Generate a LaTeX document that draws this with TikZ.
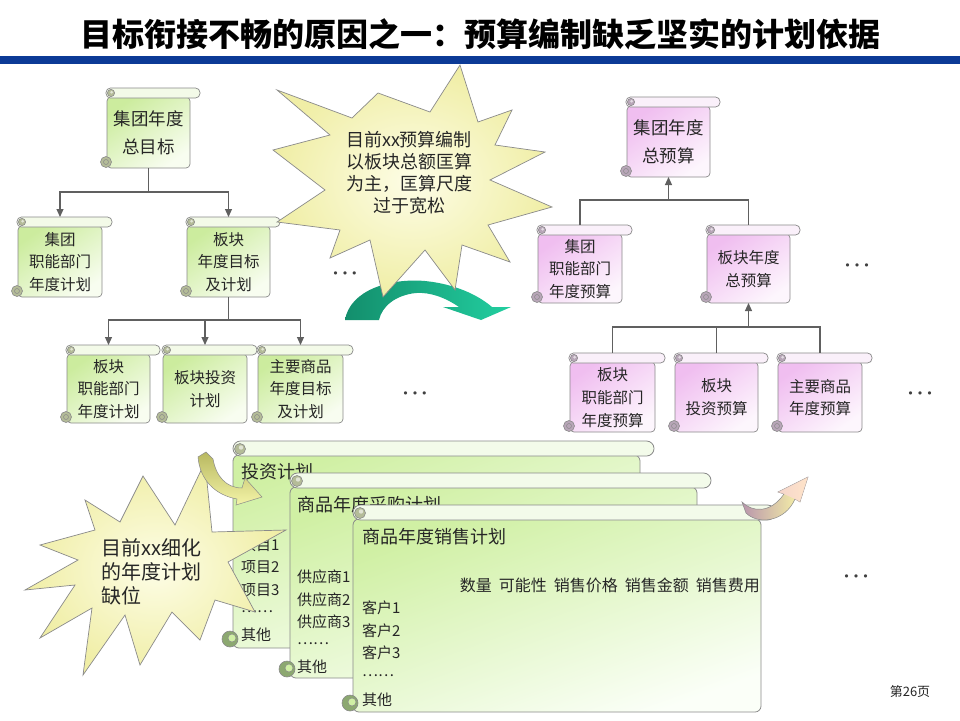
\documentclass[tikz,border=0pt]{standalone}
\usepackage{fontspec}
\setmainfont{Noto Sans CJK SC}
\newfontfamily\dejavu{DejaVu Sans}
\usetikzlibrary{arrows.meta,calc}
\definecolor{barBlue}{HTML}{0C3A96}
\definecolor{lineC}{HTML}{606060}
\definecolor{edgeC}{HTML}{8A8A8A}
\definecolor{gLo}{HTML}{CCEC9E}
\definecolor{gHi}{HTML}{F8FDF0}
\definecolor{gBar}{HTML}{F3FAE8}
\definecolor{gCurl}{HTML}{B4BC98}
\definecolor{pLo}{HTML}{F0BEF0}
\definecolor{pHi}{HTML}{FDF6FD}
\definecolor{pBar}{HTML}{FAF0FA}
\definecolor{pCurl}{HTML}{B8A6B8}
\definecolor{dLo}{HTML}{D0F0A4}
\definecolor{dMid}{HTML}{F1FCE6}
\definecolor{dHi}{HTML}{FBFFF8}
\definecolor{dBar}{HTML}{F3FBEA}
\definecolor{dCurl}{HTML}{8CA870}
\definecolor{starIn}{HTML}{FDFDE6}
\definecolor{starOut}{HTML}{F0EEA6}
\definecolor{arrDark}{HTML}{138E6C}
\definecolor{arrLight}{HTML}{22CFA0}
\definecolor{oliveA}{HTML}{B8B860}
\definecolor{oliveB}{HTML}{F4F4A8}
\tikzset{
  conn/.style={draw=lineC, line width=1.1pt},
  arr/.style={conn, -{Triangle[length=8pt,width=7pt]}},
  gbody/.style={left color=gLo, right color=gHi, shading angle=35, draw=edgeC, line width=0.7pt},
  gbar/.style={fill=gBar, draw=edgeC, line width=0.7pt},
  gcurl/.style={fill=gCurl, draw=edgeC, line width=0.6pt},
  pbody/.style={left color=pLo, right color=pHi, shading angle=35, draw=edgeC, line width=0.7pt},
  pbar/.style={fill=pBar, draw=edgeC, line width=0.7pt},
  pcurl/.style={fill=pCurl, draw=edgeC, line width=0.6pt},
  dbody/.style={left color=dLo, middle color=dMid, right color=dHi, shading angle=20, draw=edgeC, line width=0.8pt},
  dbar/.style={fill=dBar, draw=edgeC, line width=0.8pt},
  dcurl/.style={fill=gCurl, draw=edgeC, line width=0.6pt},
  dcurlb/.style={fill=dCurl, draw=edgeC, line width=0.6pt},
  bigtxt/.style={align=center, text=black!85, font=\fontsize{17.5}{28}\selectfont},
  smalltxt/.style={align=center, text=black!85, font=\fontsize{15.5}{22.8}\selectfont},
  doctitle/.style={anchor=west, text=black!85, font=\fontsize{18}{18}\selectfont, inner sep=0pt},
  docitem/.style={anchor=west, text=black!85, font=\fontsize{15}{15}\selectfont, inner sep=0pt},
  elltxt/.style={font=\dejavu\fontsize{11}{11}\selectfont, text=black!75},
  startxt/.style={text=black!85}
}
% vertical scroll: name, x1, y1, x2, y2, palette, size-style, text
\newcommand\vscroll[8]{%
  \path[#6body, rounded corners=4pt] (#2,{#3+9}) -- (#4,{#3+9}) -- (#4,#5) -- (#2,#5) -- cycle;
  \path[#6bar, rounded corners=4.5pt] ({#2-1},#3) rectangle ({#4+10},{#3+10});
  \path[#6curl] ({#2+4},{#3+5}) circle (3.6pt);
  \path[fill=white, opacity=0.6] ({#2+4.6},{#3+4.2}) circle (1.5pt);
  \path[#6curl] ({#2-1},{#5-6}) circle (5.5pt);
  \path[draw=edgeC, line width=0.5pt] ({#2-1},{#5-6}) circle (2.5pt);
  \node[inner sep=0pt, outer sep=0pt, minimum width={(#4-#2)*1pt}, minimum height={(#5-#3)*1pt}] (#1) at ({(#2+#4)/2},{(#3+#5)/2}) {};
  \node[#7] (#1t) at ({(#2+#4)/2},{(#3+10+#5)/2}) {#8};
}
% horizontal document scroll: name, x1, y1, x2, y2
\newcommand\hscroll[5]{%
  \path[dbody, rounded corners=6pt] (#2,{#3+14}) -- (#4,{#3+14}) -- (#4,#5) -- (#2,#5) -- cycle;
  \path[dbar, rounded corners=7.5pt] (#2,#3) rectangle ({#4+14},{#3+15});
  \path[dcurl] ({#2+7},{#3+8}) circle (5.5pt);
  \path[fill=white, opacity=0.6] ({#2+8},{#3+6.5}) circle (2.2pt);
  \path[dcurlb] ({#2-3},{#5-9}) circle (8pt);
  \path[draw=edgeC, line width=0.5pt, fill=dLo] ({#2-1},{#5-10}) circle (4pt);
  \node[inner sep=0pt, outer sep=0pt, minimum width={(#4-#2)*1pt}, minimum height={(#5-#3)*1pt}] (#1) at ({(#2+#4)/2},{(#3+#5)/2}) {};
}
\begin{document}
\begin{tikzpicture}[x=1pt,y=-1pt]
\useasboundingbox (0,0) rectangle (960,720);
\fill[white] (0,0) rectangle (960,720);
% title and bar
\node[text=black, font=\fontsize{32}{32}\selectfont\bfseries] (title) at (480,34) {目标衔接不畅的原因之一：预算编制缺乏坚实的计划依据};
\fill[barBlue] (0,56) rectangle (960,64);
% ===== left tree (green) =====
\vscroll{LT}{107}{88}{190}{168}{g}{bigtxt}{集团年度\\总目标}
\vscroll{L1}{18}{217}{102}{297}{g}{smalltxt}{集团\\职能部门\\年度计划}
\vscroll{L2}{187}{217}{270}{297}{g}{smalltxt}{板块\\年度目标\\及计划}
\vscroll{B1}{67}{345}{150}{423}{g}{smalltxt}{板块\\职能部门\\年度计划}
\vscroll{B2}{163}{345}{247}{423}{g}{smalltxt}{板块投资\\计划}
\vscroll{B3}{258}{345}{343}{423}{g}{smalltxt}{主要商品\\年度目标\\及计划}
\coordinate (j1) at ($(LT.south)+(0,24)$);
\draw[conn] (LT.south) -- (j1);
\draw[arr] (j1) -| (L1.north);
\draw[arr] (j1) -| (L2.north);
\coordinate (j2) at ($(L2.south)+(0,23)$);
\draw[conn] (L2.south) -- (j2);
\draw[arr] (j2) -| (B1.north);
\draw[arr] (j2) -| (B2.north);
\draw[arr] (j2) -| (B3.north);
\node[elltxt] (e1) at (345,275) {•\kern3pt•\kern3pt•};
\node[elltxt] (e2) at (415,395) {•\kern3pt•\kern3pt•};
% ===== right tree (pink) =====
\vscroll{RT}{627}{97}{710}{177}{p}{bigtxt}{集团年度\\总预算}
\vscroll{R1}{538}{225}{622}{303}{p}{smalltxt}{集团\\职能部门\\年度预算}
\vscroll{R2}{707}{225}{790}{303}{p}{smalltxt}{板块年度\\总预算}
\vscroll{C1}{570}{353}{655}{432}{p}{smalltxt}{板块\\职能部门\\年度预算}
\vscroll{C2}{675}{353}{758}{432}{p}{smalltxt}{板块\\投资预算}
\vscroll{C3}{778}{353}{862}{432}{p}{smalltxt}{主要商品\\年度预算}
\coordinate (jr1) at ($(RT.south)+(0,23)$);
\draw[conn] (R1.north) |- (jr1) -| (R2.north);
\draw[arr] (jr1) -- (RT.south);
\coordinate (jr2) at ($(R2.south)+(0,24)$);
\draw[conn] (C1.north) |- (jr2) -| (C3.north);
\draw[conn] (C2.north) -- (C2.north |- jr2);
\draw[arr] (jr2) -- (R2.south);
\node[elltxt] (e3) at (857,267) {•\kern3pt•\kern3pt•};
\node[elltxt] (e4) at (920,395) {•\kern3pt•\kern3pt•};
\node[elltxt] (e5) at (856,578) {•\kern3pt•\kern3pt•};
% ===== green curved arrow =====
\path[left color=arrDark, right color=arrLight] (345,320) .. controls (350,290) and (390,278) .. (425,281)
  .. controls (455,284) and (478,295) .. (492,307) -- (511,307) -- (481,320) -- (443,307) -- (459,307)
  .. controls (446,298) and (431,292) .. (416,293) .. controls (396,295) and (382,306) .. (379,320) -- cycle;
% ===== star 1 =====
\path[inner color=starIn, outer color=starOut, draw=edgeC, line width=0.7pt]
  (460,65) -- (478,122) -- (512,110) -- (495,145) -- (545,152) -- (490,180) -- (552,207) -- (488,225)
  -- (510,262) -- (462,245) -- (455,290) -- (425,250) -- (383,297) -- (370,240) -- (330,258) -- (340,230)
  -- (277,222) -- (325,190) -- (273,150) -- (330,135) -- (277,90) -- (352,118) -- (378,93) -- (430,112) -- cycle;
\node[startxt, align=center, font=\fontsize{18}{22}\selectfont] (s1) at (409,173) {目前xx预算编制\\以板块总额匡算\\为主，匡算尺度\\过于宽松};
% ===== documents =====
\hscroll{D1}{233}{441}{640}{648}
\node[doctitle] (D1t) at (241,472) {投资计划};
\node[docitem] (D1a) at (241,545) {项目1};
\node[docitem] (D1b) at (241,567) {项目2};
\node[docitem] (D1c) at (241,590) {项目3};
\node[docitem] (D1d) at (241,612) {……};
\node[docitem] (D1e) at (241,635) {其他};
% star 2
\path[inner color=starIn, outer color=starOut, draw=edgeC, line width=0.7pt]
  (143,476) -- (175,525) -- (205,462) -- (212,532) -- (286,530) -- (228,562) -- (255,612) -- (215,600)
  -- (200,640) -- (172,612) -- (140,665) -- (125,615) -- (83,675) -- (92,608) -- (40,638) -- (75,585)
  -- (25,590) -- (78,560) -- (40,545) -- (95,530) -- (85,500) -- (120,522) -- cycle;
\node[startxt, align=left, anchor=west, font=\fontsize{20}{24}\selectfont] (s2) at (98,572) {目前xx细化\\的年度计划\\缺位};
% small olive arrow
\path[top color=oliveA, bottom color=oliveB, draw=edgeC, line width=0.5pt]
  (198,457) .. controls (200,480) and (215,495) .. (237,499) -- (236,505) -- (262,497) -- (245,478) -- (242,488)
  .. controls (226,488) and (216,476) .. (213,459) -- (206,452) -- cycle;
\hscroll{D2}{290}{473}{697}{678}
\node[doctitle] (D2t) at (297,505) {商品年度采购计划};
\node[docitem] (D2a) at (297,577) {供应商1};
\node[docitem] (D2b) at (297,600) {供应商2};
\node[docitem] (D2c) at (297,622) {供应商3};
\node[docitem] (D2d) at (297,644) {……};
\node[docitem] (D2e) at (297,667) {其他};
\hscroll{D3}{353}{505}{761}{712}
\node[doctitle] (D3t) at (362,537) {商品年度销售计划};
\node[docitem, anchor=east, font=\fontsize{16}{16}\selectfont] (D3h) at (760,585) {数量\hspace{7pt}可能性\hspace{7pt}销售价格\hspace{7pt}销售金额\hspace{7pt}销售费用};
\node[docitem] (D3a) at (362,608) {客户1};
\node[docitem] (D3b) at (362,631) {客户2};
\node[docitem] (D3c) at (362,653) {客户3};
\node[docitem] (D3d) at (362,676) {……};
\node[docitem] (D3e) at (362,700) {其他};
% curled arrow at top right of last document
\path[left color=pCurl!90!purple, right color=yellow!35, draw=edgeC, line width=0.5pt]
  (742,502) .. controls (752,512) and (770,514) .. (784,494) -- (778,492) -- (808,477) -- (800,502) -- (795,499)
  .. controls (785,522) and (758,525) .. (746,513) -- cycle;
\path[fill=pink!60, opacity=0.7] (784,494) -- (778,492) -- (808,477) -- (800,502) -- (795,499) -- cycle;
% page number
\node[font=\fontsize{13}{13}\selectfont, text=black!85] (page) at (910,692) {第26页};
\end{tikzpicture}
\end{document}
